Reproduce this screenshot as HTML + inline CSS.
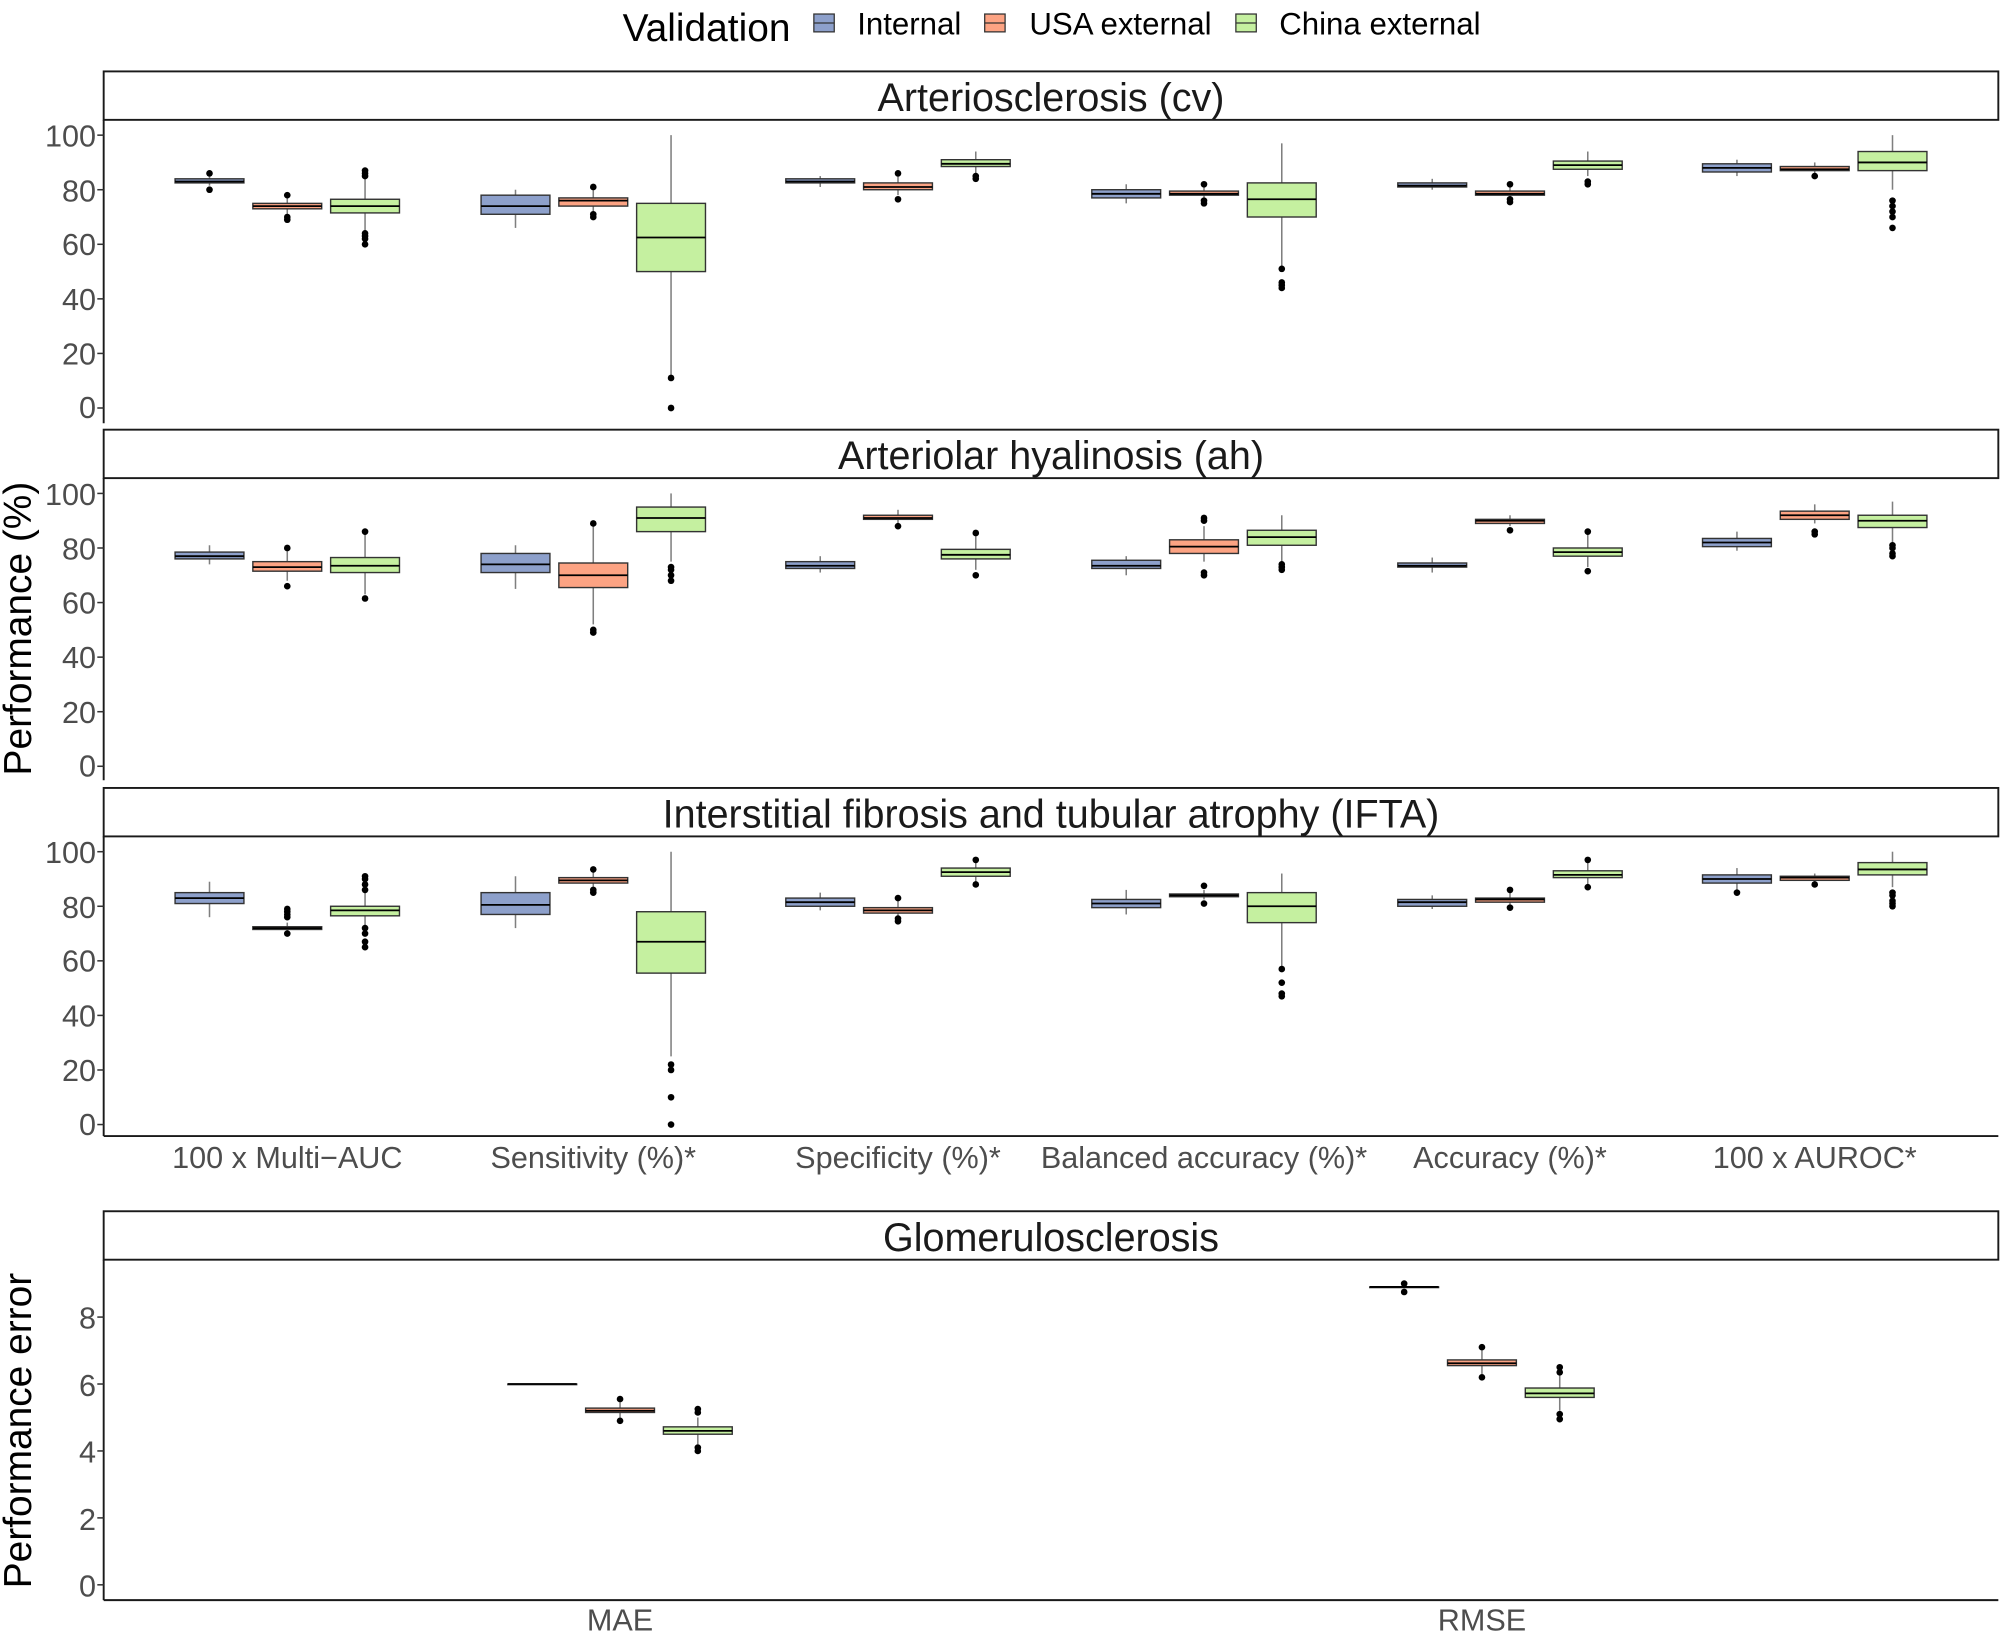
<!DOCTYPE html>
<html><head><meta charset="utf-8"><style>
html,body{margin:0;padding:0;background:#fff;}
svg{display:block;font-family:"Liberation Sans",sans-serif;}
.tk{fill:#4d4d4d;font-size:24px;}
.st{font-size:31px;fill:#1a1a1a;}
</style></head><body>
<svg id="s" width="2000" height="1632" viewBox="0 0 1568 1280" xmlns="http://www.w3.org/2000/svg">
<rect width="1568" height="1280" fill="#fff"/>
<text x="488" y="32" font-size="30.5" fill="#000">Validation</text>
<rect x="638" y="11" width="16" height="14" fill="#8da0cb" stroke="#333" stroke-width="1"/><line x1="638" y1="18" x2="654" y2="18" stroke="#333"/>
<text x="672" y="27" font-size="24.5" fill="#000">Internal</text>
<rect x="772" y="11" width="16" height="14" fill="#fca383" stroke="#333" stroke-width="1"/><line x1="772" y1="18" x2="788" y2="18" stroke="#333"/>
<text x="807" y="27" font-size="24.5" fill="#000">USA external</text>
<rect x="969" y="11" width="16" height="14" fill="#c5f0a0" stroke="#333" stroke-width="1"/><line x1="969" y1="18" x2="985" y2="18" stroke="#333"/>
<text x="1003" y="27" font-size="24.5" fill="#000">China external</text>

<g fill="none" stroke="#1a1a1a" stroke-width="1.5">
<rect x="81" y="56" width="1486" height="38"/>
<rect x="81" y="337" width="1486" height="38"/>
<rect x="81" y="618" width="1486" height="38"/>
<rect x="81" y="950" width="1486" height="38"/>
<line x1="81" y1="94" x2="81" y2="332"/>
<line x1="81" y1="375" x2="81" y2="612"/>
<line x1="81" y1="656" x2="81" y2="891"/>
<line x1="81" y1="891" x2="1567" y2="891"/>
<line x1="81" y1="988" x2="81" y2="1255"/>
<line x1="81" y1="1255" x2="1567" y2="1255"/>
</g>
<text class="st" x="824" y="87" text-anchor="middle">Arteriosclerosis (cv)</text>
<text class="st" x="824" y="368" text-anchor="middle">Arteriolar hyalinosis (ah)</text>
<text class="st" x="824" y="649" text-anchor="middle">Interstitial fibrosis and tubular atrophy (IFTA)</text>
<text class="st" x="824" y="981" text-anchor="middle">Glomerulosclerosis</text>

<g class="tk" text-anchor="end">
<text x="75" y="115">100</text><text x="75" y="158">80</text><text x="75" y="200">60</text><text x="75" y="243">40</text><text x="75" y="286">20</text><text x="75" y="328">0</text>
<text x="75" y="396">100</text><text x="75" y="439">80</text><text x="75" y="481">60</text><text x="75" y="524">40</text><text x="75" y="567">20</text><text x="75" y="609">0</text>
<text x="75" y="677">100</text><text x="75" y="720">80</text><text x="75" y="762">60</text><text x="75" y="805">40</text><text x="75" y="848">20</text><text x="75" y="890">0</text>
<text x="75" y="1042">8</text><text x="75" y="1095">6</text><text x="75" y="1147">4</text><text x="75" y="1200">2</text><text x="75" y="1252">0</text>
</g>
<g class="tk" text-anchor="middle">
<text x="225" y="916">100 x Multi−AUC</text>
<text x="465" y="916">Sensitivity (%)*</text>
<text x="704" y="916">Specificity (%)*</text>
<text x="944" y="916">Balanced accuracy (%)*</text>
<text x="1184" y="916">Accuracy (%)*</text>
<text x="1423" y="916">100 x AUROC*</text>
<text x="486" y="1279">MAE</text>
<text x="1162" y="1279">RMSE</text>
</g>
<text transform="translate(24,493) rotate(-90)" font-size="30.5" text-anchor="middle" fill="#000">Performance (%)</text>
<text transform="translate(24,1122) rotate(-90)" font-size="30.5" text-anchor="middle" fill="#000">Performance error</text>
<g id="g"></g>
</svg>
<script>
var g=document.getElementById('g'),h='';
var cols=['#8da0cb','#fca383','#c5f0a0'];
function ticks(vals,y0,sc){vals.forEach(function(v){var y=y0-v*sc;h+='<line x1="76" y1="'+y+'" x2="81" y2="'+y+'" stroke="#333" stroke-width="1.2"/>';});}
function box(cx,d,y0,sc,c){var Y=function(v){return y0-v*sc};var hw=27;
h+='<line x1="'+cx+'" x2="'+cx+'" y1="'+Y(d[4])+'" y2="'+Y(d[3])+'" stroke="#7f7f7f" stroke-width="1.2"/>';
h+='<rect x="'+(cx-hw)+'" y="'+Y(d[2])+'" width="'+(2*hw)+'" height="'+Math.max(0.5,Y(d[0])-Y(d[2]))+'" fill="'+c+'" stroke="#333" stroke-width="1.1"/>';
h+='<line x1="'+(cx-hw)+'" x2="'+(cx+hw)+'" y1="'+Y(d[1])+'" y2="'+Y(d[1])+'" stroke="#000" stroke-width="1.4"/>';
(d[5]||[]).forEach(function(o){h+='<circle cx="'+cx+'" cy="'+Y(o)+'" r="2.6" fill="#000"/>';});}
var xs=[225,465,704,944,1184,1423];
var P=[
[106,[[[82.5,83,84,81.5,85,[80,86]],[73,74,75,71,78,[69,70,78]],[71.5,74,76.5,65,84,[60,62,63,64,85,86,87]]],
[[71,74,78,66,80],[74,76,77,72,80,[70,71,81]],[50,62.5,75,12,100,[11,0]]],
[[82.5,83,84,81,85],[80,81,82.5,78,85,[76.5,86]],[88.5,89.5,91,86,94,[84,85]]],
[[77,78.5,80,75,82],[78,78.5,79.5,76,81,[75,76,82]],[70,76.5,82.5,52,97,[44,45,46,51]]],
[[81,81.5,82.5,80,84],[78,78.5,79.5,77,81,[75.5,76.5,82]],[87.5,89,90.5,85,94,[82,83]]],
[[86.5,88,89.5,85,91],[87,87.5,88.5,86,90,[85]],[87,90,94,80,100,[66,70,72,74,76]]]]],
[387,[[[76,77,78.5,74,81],[71.5,73,75,68,79,[66,80]],[71,73.5,76.5,63,85.5,[61.5,86]]],
[[71,74,78,65,81],[65.5,70,74.5,52,88,[49,50,89]],[86,91,95,75,100,[68,70,72,73]]],
[[72.5,73.5,75,71,77],[90.5,91,92,89,94,[88]],[76,77.5,79.5,72,85,[70,85.5]]],
[[72.5,73.5,75.5,70,77],[78,80.5,83,75,88,[70,71,90,91]],[81,84,86.5,75,92,[72,73,74]]],
[[73,73.5,74.5,71,76.5],[89,90,90.5,88,92,[86.5]],[77,78.5,80,73,85,[71.5,86]]],
[[80.5,82,83.5,79,86],[90.5,92,93.5,89,96,[85,86]],[87.5,90,92,82,97,[77,78,80,81]]]]],
[668,[[[81,83,85,76,89],[71.5,72,72.5,71,74,[70,76,77,78,79]],[76.5,78.5,80,72,86,[65,67,70,72,86,88,90,91]]],
[[77,80.5,85,72,91],[88.5,89.5,90.5,86,93,[85,86,93.5]],[55.5,67,78,25,100,[0,10,20,22]]],
[[80,81.5,83,78.5,85],[77.5,78.5,79.5,76,82,[74.5,75.5,83]],[91,92.5,94,89,96,[88,97]]],
[[79.5,81,82.5,77,86],[83.5,84,84.5,82.5,86,[81,87.5]],[74,80,85,58,92,[47,48,52,57]]],
[[80,81.5,82.5,79,84],[81.5,82.5,83,80.5,85,[79.5,86]],[90.5,91.5,93,88,96,[87,97]]],
[[88.5,90,91.5,86,94,[85]],[89.5,90.5,91,88.5,92,[88]],[91.5,93.5,96,87,100,[80,81,82,84,85]]]]]];
P.forEach(function(p){var y0=p[0]+214,sc=2.14;ticks([0,20,40,60,80,100],y0,sc);
p[1].forEach(function(cat,i){cat.forEach(function(d,j){box(xs[i]+(j-1)*61,d,y0,sc,cols[j]);});});});
var y4=1243,s4=26.25;ticks([0,2,4,6,8],y4,s4);
var Q=[[[6,6,6,6,6],[5.15,5.2,5.28,5.0,5.45,[4.9,5.55]],[4.5,4.6,4.72,4.2,5.0,[4.0,4.1,5.15,5.25]]],
[[8.9,8.9,8.9,8.9,8.9,[8.75,9.0]],[6.55,6.62,6.72,6.3,7.0,[6.2,7.1]],[5.6,5.72,5.88,5.2,6.3,[4.95,5.1,6.35,6.5]]]];
[486,1162].forEach(function(x,i){Q[i].forEach(function(d,j){box(x+(j-1)*61,d,y4,s4,cols[j]);});});
g.innerHTML=h;
</script>
</body></html>
